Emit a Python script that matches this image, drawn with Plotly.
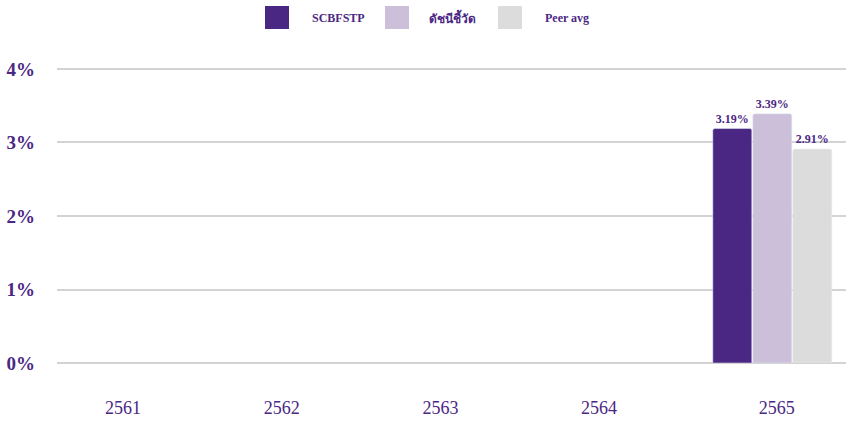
import plotly.graph_objects as go

categories = ["2561", "2562", "2563", "2564", "2565"]
scbfstp = [None, None, None, None, 3.19]
benchmark = [None, None, None, None, 3.39]
peer_avg = [None, None, None, None, 2.91]
series_names = ["SCBFSTP", "ดัชนีชี้วัด", "Peer avg"]
colors = ["#4b2784", "#cbbfd9", "#dcdcdc"]
purple = "#4b2784"
y_ticks = [0, 1, 2, 3, 4]

T, B, L = 67, 58, 57
PH = 421 - T - B
PW = 846 - L
STEP = 158.7  # px per category
x0 = -(123 - L) / STEP
x1 = x0 + PW / STEP
xs = list(range(len(categories)))

bar_w = 39 / STEP
offsets = [(713 - 758) / STEP, (753 - 758) / STEP, (793 - 758) / STEP]

fig = go.Figure()
for name, vals, col, off in zip(series_names, [scbfstp, benchmark, peer_avg], colors, offsets):
    fig.add_trace(go.Bar(
        x=xs, y=vals, name=name, marker=dict(color=col, cornerradius=2),
        width=bar_w, offset=off,
        text=[None if v is None else f"{v:.2f}%" for v in vals],
        textposition="outside", cliponaxis=False,
        textfont=dict(family="Liberation Serif", size=12, color=purple, weight="bold"),
        showlegend=False,
    ))

# manual legend (large squares)
leg_x = [265, 385, 498]
txt_x = [310, 427, 543]
for i, name in enumerate(series_names):
    fig.add_shape(type="rect", xref="paper", yref="paper",
                  x0=(leg_x[i] - L) / PW, x1=(leg_x[i] + 24 - L) / PW,
                  y0=(421 - B - 29) / PH, y1=(421 - B - 6) / PH,
                  fillcolor=colors[i], line=dict(width=0), layer="above")
    fig.add_annotation(xref="paper", yref="paper", x=(txt_x[i] - L) / PW, y=(421 - B - 18) / PH,
                       text=f"<b>{name}</b>", showarrow=False, xanchor="left", yanchor="middle",
                       font=dict(family="Liberation Serif, Noto Sans", size=12, color=purple))

fig.update_layout(
    width=846, height=421,
    margin=dict(l=L, r=0, t=T, b=B, autoexpand=False),
    plot_bgcolor="white", paper_bgcolor="white",
    barmode="overlay",
    font=dict(family="Liberation Serif", color=purple),
    xaxis=dict(range=[x0, x1], tickvals=[0, 1, 2, 3, 4.12], ticktext=categories,
               showgrid=False, showline=False, zeroline=False, ticks="", ticklabelstandoff=32,
               tickfont=dict(family="Liberation Serif", size=18, color=purple)),
    yaxis=dict(range=[0, 4.027], tickvals=y_ticks, ticktext=[f"{v}%" for v in y_ticks],
               showgrid=True, gridcolor="#d3d3d3", gridwidth=2, zeroline=True,
               zerolinecolor="#d3d3d3", zerolinewidth=2, ticklabelstandoff=21,
               tickfont=dict(family="Liberation Serif", size=19, color=purple, weight="bold")),
)

fig.write_html("out.html", config={"displayModeBar": False},
               post_script="document.body.style.margin='0px';")
